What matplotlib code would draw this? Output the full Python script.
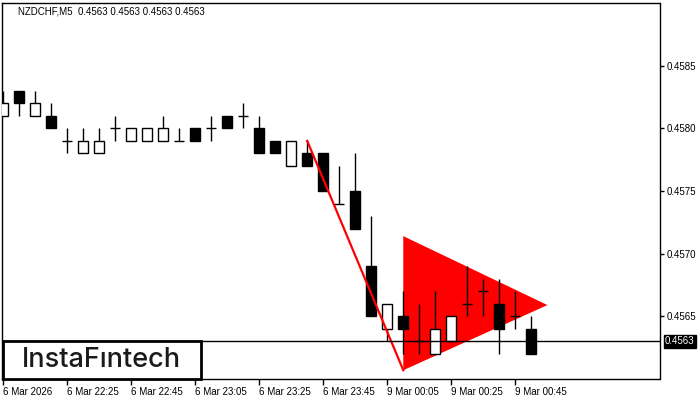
import numpy as np
import matplotlib
matplotlib.use('Agg')
import matplotlib.pyplot as plt
from matplotlib.patches import Polygon, Rectangle

plt.rcParams['font.family'] = ['Liberation Sans', 'DejaVu Sans']

# NZDCHF M5 свечи, 6 Mar 22:05 ... 9 Mar 00:50
opens = [0.4581, 0.4583, 0.4581, 0.4581, 0.4579, 0.4578, 0.4578, 0.4580, 0.4579, 0.4579,
         0.4579, 0.4579, 0.4580, 0.4580, 0.4581, 0.4581, 0.4580, 0.4579, 0.4577, 0.4578,
         0.4578, 0.4574, 0.4575, 0.4569, 0.4564, 0.4565, 0.4563, 0.4562, 0.4563, 0.4566,
         0.4567, 0.4566, 0.4565, 0.4564]
highs = [0.4583, 0.4583, 0.4583, 0.4582, 0.4580, 0.4580, 0.4580, 0.4581, 0.4580, 0.4580,
         0.4581, 0.4580, 0.4580, 0.4581, 0.4581, 0.4582, 0.4581, 0.4579, 0.4579, 0.4579,
         0.4578, 0.4577, 0.4578, 0.4573, 0.4566, 0.4567, 0.4566, 0.4567, 0.4565, 0.4569,
         0.4568, 0.4568, 0.4567, 0.4565]
lows = [0.4581, 0.4581, 0.4581, 0.4580, 0.4578, 0.4578, 0.4578, 0.4579, 0.4579, 0.4579,
        0.4579, 0.4579, 0.4579, 0.4579, 0.4580, 0.4580, 0.4578, 0.4578, 0.4577, 0.4577,
        0.4575, 0.4574, 0.4572, 0.4565, 0.4563, 0.4562, 0.4562, 0.4562, 0.4563, 0.4565,
        0.4565, 0.4562, 0.4564, 0.4562]
closes = [0.4582, 0.4582, 0.4582, 0.4580, 0.4579, 0.4579, 0.4579, 0.4580, 0.4580, 0.4580,
          0.4580, 0.4579, 0.4579, 0.4580, 0.4580, 0.4581, 0.4578, 0.4578, 0.4579, 0.4577,
          0.4575, 0.4574, 0.4572, 0.4565, 0.4566, 0.4564, 0.4563, 0.4564, 0.4565, 0.4566,
          0.4567, 0.4564, 0.4565, 0.4562]

tick_idx = [0, 4, 8, 12, 16, 20, 24, 28, 32]
tick_labels = ['6 Mar 2026', '6 Mar 22:25', '6 Mar 22:45', '6 Mar 23:05', '6 Mar 23:25',
               '6 Mar 23:45', '9 Mar 00:05', '9 Mar 00:25', '9 Mar 00:45']
price_ticks = [0.4565, 0.4570, 0.4575, 0.4580, 0.4585]

# фигура "вымпел"
pole_x = [19, 25]
pole_y = [0.4579, 0.45607]
tri_x = [25, 25, 34]
tri_y = [0.45714, 0.45607, 0.45659]

last_price = 0.4563

fig = plt.figure(figsize=(7, 4), dpi=100)
ax = fig.add_axes([2 / 700, 21 / 400, 657.5 / 700, 376 / 400])

x = np.arange(len(opens))
o = np.array(opens)
c = np.array(closes)
w = 0.62

ax.add_patch(Polygon(list(zip(tri_x, tri_y)), closed=True, facecolor='red',
                     edgecolor='none', zorder=1))

ax.vlines(x, lows, highs, color='black', linewidth=1, zorder=2)
bull = c > o
bear = c < o
doji = c == o
ax.bar(x[bull], (c - o)[bull], bottom=o[bull], width=w, facecolor='white',
       edgecolor='black', linewidth=1, zorder=3)
ax.bar(x[bear], (o - c)[bear], bottom=c[bear], width=w, facecolor='black',
       edgecolor='black', linewidth=1, zorder=3)
ax.hlines(o[doji], x[doji] - w / 2, x[doji] + w / 2, color='black', linewidth=1, zorder=3)

ax.plot(pole_x, pole_y, color='red', linewidth=1.6, zorder=4)
ax.axhline(last_price, color='black', linewidth=1, zorder=4)

ax.set_xlim(-0.06, 41.0)
ax.set_ylim(0.4560, 0.4590)

ax.yaxis.tick_right()
ax.set_yticks(price_ticks)
ax.set_yticklabels(['%.4f' % p for p in price_ticks])
ax.tick_params(axis='y', direction='out', length=3, width=1, pad=2, labelsize=7)
ax.set_xticks(tick_idx)
ax.set_xticklabels(tick_labels)
for lab in ax.get_xticklabels():
    lab.set_horizontalalignment('left')
ax.tick_params(axis='x', direction='out', length=4, width=1, pad=2, labelsize=7)
for sp in ax.spines.values():
    sp.set_linewidth(1)

# метка текущей цены
ax.annotate('%.4f' % last_price, xy=(1.0, last_price),
            xycoords=('axes fraction', 'data'), xytext=(4, 0), textcoords='offset points',
            ha='left', va='center', fontsize=7, color='white',
            bbox=dict(boxstyle='square,pad=0.15', facecolor='black', edgecolor='black'))

fig.text(18 / 700, 1 - 12 / 400, 'NZDCHF,M5  0.4563 0.4563 0.4563 0.4563',
         fontsize=7, ha='left', va='center')

# логотип
fig.patches.append(Rectangle((3 / 700, 21 / 400), 198 / 700, 38 / 400,
                             transform=fig.transFigure, facecolor='white',
                             edgecolor='black', linewidth=2, zorder=5))
fig.text(101 / 700, 1 - 360 / 400, 'InstaF\u0131ntech', fontsize=19.5, ha='center',
         va='center', color='#1a1a1a', fontweight='medium', zorder=6,
         family=['Inter', 'DejaVu Sans'])

fig.savefig('out.png', dpi=100)
